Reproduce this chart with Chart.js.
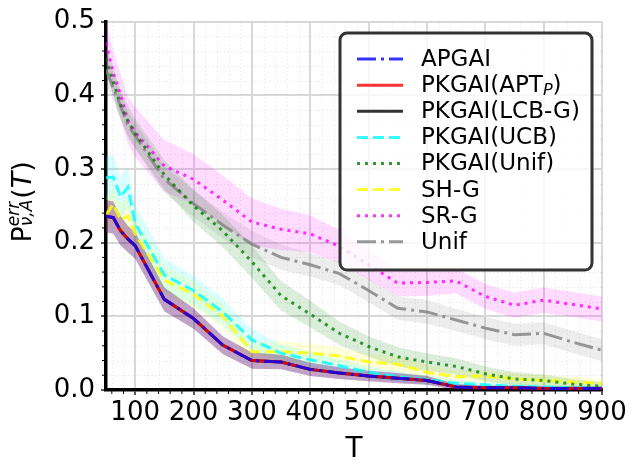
<!DOCTYPE html>
<html>
<head>
<meta charset="utf-8">
<script src="https://cdn.jsdelivr.net/npm/chart.js@4.4.0/dist/chart.umd.min.js"></script>
<style>
  html, body { margin: 0; padding: 0; background: #fff; }
  #wrap { width: 638px; height: 471px; }
</style>
</head>
<body>
<div id="wrap"><canvas id="errChart"></canvas></div>
<script>
// budgets T and tick labels
const budgets = [50, 62.5, 75, 87.5, 100, 150, 200, 250, 300, 350, 400, 450, 500, 550, 600, 650, 700, 750, 800, 850, 900];
const xTicks = [100, 200, 300, 400, 500, 600, 700, 800, 900];
const yTicks = [0, 0.1, 0.2, 0.3, 0.4, 0.5];

// mean error per algorithm
const apgai     = [0.236, 0.234, 0.216, 0.205, 0.196, 0.123, 0.097, 0.061, 0.040, 0.038, 0.028, 0.023, 0.019, 0.016, 0.013, 0.004, 0.003, 0.003, 0.002, 0.002, 0.002];
const pkgaiApt  = [0.236, 0.234, 0.216, 0.205, 0.196, 0.123, 0.097, 0.061, 0.040, 0.038, 0.028, 0.023, 0.019, 0.016, 0.013, 0.004, 0.003, 0.003, 0.002, 0.002, 0.002];
const pkgaiLcb  = [0.236, 0.234, 0.216, 0.205, 0.196, 0.123, 0.097, 0.061, 0.040, 0.038, 0.028, 0.023, 0.019, 0.016, 0.013, 0.004, 0.003, 0.003, 0.002, 0.002, 0.002];
const pkgaiUcb  = [0.288, 0.289, 0.262, 0.275, 0.226, 0.156, 0.135, 0.106, 0.068, 0.050, 0.041, 0.033, 0.024, 0.018, 0.014, 0.009, 0.007, 0.005, 0.004, 0.003, 0.002];
const pkgaiUnif = [0.450, 0.418, 0.387, 0.365, 0.348, 0.292, 0.250, 0.216, 0.174, 0.128, 0.103, 0.077, 0.059, 0.045, 0.038, 0.032, 0.022, 0.015, 0.013, 0.008, 0.005];
const shG       = [0.238, 0.252, 0.231, 0.236, 0.212, 0.149, 0.130, 0.100, 0.052, 0.052, 0.050, 0.046, 0.038, 0.035, 0.024, 0.018, 0.019, 0.015, 0.013, 0.011, 0.009];
const srG       = [0.471, 0.430, 0.400, 0.366, 0.350, 0.304, 0.286, 0.258, 0.228, 0.218, 0.212, 0.195, 0.170, 0.145, 0.146, 0.148, 0.127, 0.115, 0.122, 0.116, 0.110];
const unif      = [0.435, 0.410, 0.385, 0.360, 0.345, 0.286, 0.253, 0.224, 0.198, 0.180, 0.170, 0.158, 0.135, 0.111, 0.106, 0.095, 0.084, 0.075, 0.077, 0.065, 0.054];

// half width of the shaded bands
const lowBand   = [0.022, 0.022, 0.020, 0.018, 0.018, 0.016, 0.014, 0.012, 0.011, 0.010, 0.009, 0.008, 0.007, 0.007, 0.006, 0.004, 0.003, 0.003, 0.003, 0.003, 0.003];
const ucbBand   = [0.030, 0.030, 0.028, 0.028, 0.026, 0.022, 0.020, 0.018, 0.015, 0.012, 0.010, 0.009, 0.008, 0.007, 0.006, 0.005, 0.004, 0.004, 0.003, 0.003, 0.003];
const unifGBand = [0.020, 0.020, 0.020, 0.020, 0.020, 0.020, 0.022, 0.022, 0.022, 0.020, 0.018, 0.016, 0.014, 0.013, 0.012, 0.011, 0.010, 0.009, 0.008, 0.007, 0.006];
const shBand    = [0.025, 0.025, 0.024, 0.024, 0.022, 0.020, 0.018, 0.016, 0.014, 0.014, 0.013, 0.012, 0.011, 0.011, 0.010, 0.009, 0.008, 0.008, 0.007, 0.007, 0.006];
const srBand    = [0.030, 0.030, 0.030, 0.032, 0.034, 0.035, 0.034, 0.033, 0.032, 0.028, 0.025, 0.022, 0.020, 0.018, 0.018, 0.017, 0.017, 0.017, 0.017, 0.017, 0.017];
const unifBand  = [0.018, 0.018, 0.018, 0.018, 0.018, 0.018, 0.018, 0.018, 0.018, 0.017, 0.016, 0.016, 0.016, 0.016, 0.016, 0.015, 0.015, 0.015, 0.015, 0.015, 0.015];

const LW = 3;
const DASHDOT = [19, 5, 3, 5];
const DASHED = [11, 5];
const DOTTED = [3, 5];

const series = [
  { label: 'APGAI',        mean: apgai,     band: lowBand,   rgb: '0,0,255',     dash: DASHDOT },
  { label: 'PKGAI(APT_P)', mean: pkgaiApt,  band: lowBand,   rgb: '255,0,0',     dash: [] },
  { label: 'PKGAI(LCB-G)', mean: pkgaiLcb,  band: lowBand,   rgb: '0,0,0',       dash: [] },
  { label: 'PKGAI(UCB)',   mean: pkgaiUcb,  band: ucbBand,   rgb: '0,255,255',   dash: DASHED },
  { label: 'PKGAI(Unif)',  mean: pkgaiUnif, band: unifGBand, rgb: '0,128,0',     dash: DOTTED },
  { label: 'SH-G',         mean: shG,       band: shBand,    rgb: '255,255,0',   dash: DASHED },
  { label: 'SR-G',         mean: srG,       band: srBand,    rgb: '255,0,255',   dash: DOTTED },
  { label: 'Unif',         mean: unif,      band: unifBand,  rgb: '128,128,128', dash: DASHDOT },
];

const FONT = "'DejaVu Sans', sans-serif";

const datasets = [];
series.forEach((s, i) => {
  datasets.push({
    label: s.label, isMean: true, legendDash: s.dash,
    data: budgets.map((t, k) => ({ x: t, y: s.mean[k] })),
    borderColor: `rgba(${s.rgb},0.8)`, borderWidth: LW, borderDash: s.dash,
    borderCapStyle: 'butt', pointRadius: 0, fill: false, tension: 0, order: i,
  });
});
series.forEach((s, i) => {
  datasets.push({
    label: s.label + ' low',
    data: budgets.map((t, k) => ({ x: t, y: s.mean[k] - s.band[k] })),
    borderWidth: 0, borderColor: 'transparent', pointRadius: 0, fill: false, order: 20 + i,
  });
  datasets.push({
    label: s.label + ' high',
    data: budgets.map((t, k) => ({ x: t, y: s.mean[k] + s.band[k] })),
    borderWidth: 0, borderColor: 'transparent', pointRadius: 0,
    fill: '-1', backgroundColor: `rgba(${s.rgb},0.14)`, order: 20 + i,
  });
});

// dotted minor grid + minor tick marks
const minorGrid = {
  id: 'minorGrid',
  beforeDatasetsDraw(chart) {
    const { ctx, chartArea: a, scales: { x, y } } = chart;
    ctx.save();
    ctx.strokeStyle = 'rgba(0,0,0,0.10)';
    ctx.lineWidth = 1;
    ctx.setLineDash([1.2, 2.6]);
    ctx.beginPath();
    for (let v = 60; v < 900; v += 20) {
      if (v % 100 === 0) continue;
      const px = Math.round(x.getPixelForValue(v)) + 0.5;
      ctx.moveTo(px, a.top); ctx.lineTo(px, a.bottom);
    }
    for (let k = 1; k < 25; k++) {
      if (k % 5 === 0) continue;
      const py = Math.round(y.getPixelForValue(k * 0.02)) + 0.5;
      ctx.moveTo(a.left, py); ctx.lineTo(a.right, py);
    }
    ctx.stroke();
    ctx.restore();
  },
  afterDraw(chart) {
    const { ctx, chartArea: a, scales: { x, y } } = chart;
    ctx.save();
    ctx.strokeStyle = '#000';
    ctx.lineWidth = 1;
    ctx.beginPath();
    for (let v = 60; v < 900; v += 20) {
      if (v % 100 === 0) continue;
      const px = x.getPixelForValue(v);
      ctx.moveTo(px, a.bottom); ctx.lineTo(px, a.bottom + 4);
    }
    for (let k = 1; k < 25; k++) {
      if (k % 5 === 0) continue;
      const py = y.getPixelForValue(k * 0.02);
      ctx.moveTo(a.left, py); ctx.lineTo(a.left - 4, py);
    }
    ctx.stroke();
    ctx.restore();
  }
};

// label with one-letter subscript written as _X
function drawRich(ctx, text, x, y, size) {
  const parts = text.split(/_(\w)/);
  parts.forEach((p, i) => {
    if (!p) return;
    if (i % 2 === 1) {
      ctx.font = `italic ${size * 0.7}px ${FONT}`;
      ctx.fillText(p, x, y + size * 0.22);
    } else {
      ctx.font = `${size}px ${FONT}`;
      ctx.fillText(p, x, y);
    }
    x += ctx.measureText(p).width;
  });
}

const legendBox = {
  id: 'legendBox',
  afterDraw(chart) {
    const { ctx, chartArea: a } = chart;
    const items = chart.data.datasets.filter(d => d.isMean);
    const w = 252, h = 237, r = 7;
    const x0 = a.right - 262, y0 = a.top + 11.5;
    ctx.save();
    ctx.beginPath();
    ctx.roundRect(x0, y0, w, h, r);
    ctx.fillStyle = 'rgba(255,255,255,0.8)';
    ctx.fill();
    ctx.lineWidth = 3;
    ctx.strokeStyle = '#333';
    ctx.stroke();
    ctx.textBaseline = 'middle';
    ctx.fillStyle = '#000';
    items.forEach((d, i) => {
      const cy = y0 + 26 + i * 26.1;
      ctx.beginPath();
      ctx.setLineDash(d.legendDash);
      ctx.lineWidth = LW;
      ctx.lineCap = 'butt';
      ctx.strokeStyle = d.borderColor;
      ctx.moveTo(x0 + 17, cy); ctx.lineTo(x0 + 63, cy);
      ctx.stroke();
      ctx.setLineDash([]);
      drawRich(ctx, d.label, x0 + 81, cy + 1, 23);
    });
    ctx.restore();
  }
};

// rotated y label  P^{err}_{nu,A}(T)
const yLabel = {
  id: 'yLabel',
  afterDraw(chart) {
    const { ctx, chartArea: a } = chart;
    const big = 27, small = 17;
    ctx.save();
    ctx.fillStyle = '#000';
    ctx.textBaseline = 'alphabetic';
    ctx.font = `${big}px ${FONT}`;
    const wP = ctx.measureText('P').width;
    ctx.font = `italic ${small}px ${FONT}`;
    const wSup = ctx.measureText('err').width;
    const wSub = ctx.measureText('ν,A').width;
    const wScr = Math.max(wSup, wSub) + 1;
    ctx.font = `${big}px ${FONT}`;
    const wO = ctx.measureText('(').width;
    ctx.font = `italic ${big}px ${FONT}`;
    const wT = ctx.measureText('T').width;
    const total = wP + wScr + wO * 2 + wT;
    const cy = (a.top + a.bottom) / 2 - 4;
    ctx.translate(31, cy + total / 2);
    ctx.rotate(-Math.PI / 2);
    let x = 0;
    ctx.font = `${big}px ${FONT}`;
    ctx.fillText('P', x, 0); x += wP;
    ctx.font = `italic ${small}px ${FONT}`;
    ctx.fillText('err', x, -12);
    ctx.fillText('ν,A', x, 1);
    x += wScr;
    ctx.font = `${big}px ${FONT}`;
    ctx.fillText('(', x, 0); x += wO;
    ctx.font = `italic ${big}px ${FONT}`;
    ctx.fillText('T', x, 0); x += wT;
    ctx.font = `${big}px ${FONT}`;
    ctx.fillText(')', x, 0);
    ctx.restore();
  }
};

new Chart(document.getElementById('errChart'), {
  type: 'line',
  data: { datasets },
  plugins: [minorGrid, legendBox, yLabel],
  options: {
    responsive: true,
    maintainAspectRatio: false,
    animation: false,
    layout: { padding: { left: 0, right: 36, top: 20, bottom: 0 } },
    plugins: {
      legend: { display: false },
      tooltip: { enabled: false },
      title: { display: false },
    },
    scales: {
      x: {
        type: 'linear', min: 50, max: 900,
        afterBuildTicks: (s) => { s.ticks = xTicks.map(v => ({ value: v })); },
        afterFit: (s) => { s.height = 81; },
        ticks: { font: { family: FONT, size: 26 }, color: '#000', padding: 3, maxRotation: 0, autoSkip: false,
                 callback: (v) => String(v) },
        grid: { color: '#d8d8d8', lineWidth: 2, tickColor: '#000', tickLength: 5, tickWidth: 1.3 },
        border: { display: true, color: '#000', width: 3.5 },
        title: { display: true, text: 'T', color: '#000', font: { family: FONT, size: 28 }, padding: { top: 0, bottom: 4 } },
      },
      y: {
        type: 'linear', min: 0, max: 0.5,
        afterBuildTicks: (s) => { s.ticks = yTicks.map(v => ({ value: v })); },
        afterFit: (s) => { s.width = 106; },
        ticks: { font: { family: FONT, size: 26 }, color: '#000', padding: 6, autoSkip: false,
                 callback: (v) => v.toFixed(1) },
        grid: { color: '#d8d8d8', lineWidth: 2, tickColor: '#000', tickLength: 5, tickWidth: 1.3 },
        border: { display: true, color: '#000', width: 3.5 },
      },
    },
  },
});
</script>
</body>
</html>
